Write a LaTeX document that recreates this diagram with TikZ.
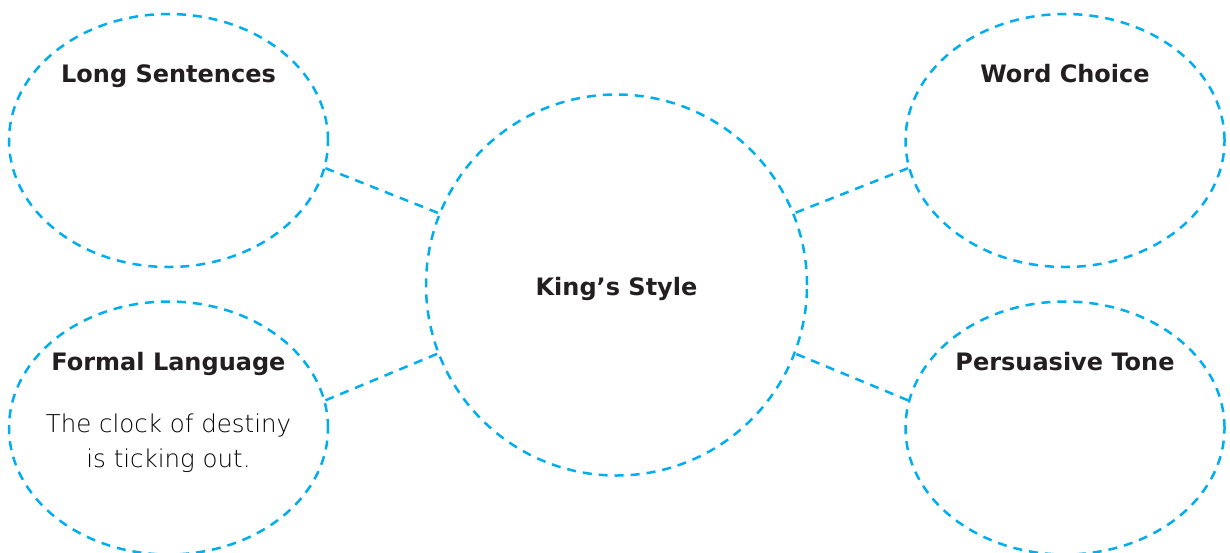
\documentclass[tikz,border=0pt]{standalone}
\usepackage{fontspec}
\setmainfont{DejaVu Sans}
\newfontfamily\bodyfont{DejaVu Sans ExtraLight}
\usetikzlibrary{shapes.geometric}
\definecolor{dashblue}{RGB}{0,174,239}
\definecolor{ink}{RGB}{35,31,32}
\begin{document}
\begin{tikzpicture}[x=1pt,y=-1pt,
  dashline/.style={draw=dashblue, line width=2.5pt, dash pattern=on 9pt off 7pt},
  bubble/.style={dashline, ellipse, minimum width=319pt, minimum height=253pt, inner sep=0pt},
  hub/.style={dashline, circle, minimum size=381pt, inner sep=0pt},
  link/.style={dashline},
  title/.style={font=\fontsize{24}{28}\selectfont\bfseries, text=ink, anchor=base, inner sep=0pt},
  body/.style={font=\bodyfont\fontsize{24.5}{35}\selectfont, align=center, text=black, anchor=base, inner sep=0pt}]
\useasboundingbox (0,0) rectangle (1230,552);
\node[hub] (c) at (616.5,285) {};
\node[bubble] (tl) at (168.5,140.5) {};
\node[bubble] (bl) at (168.5,428) {};
\node[bubble] (tr) at (1065,140.5) {};
\node[bubble] (br) at (1065,428) {};
\draw[link] (tl.-10) -- (c.158);
\draw[link] (bl.10) -- (c.201);
\draw[link] (tr.190) -- (c.22);
\draw[link] (br.170) -- (c.339);
\node[title] (tct) at (616.5,295) {King’s Style};
\node[title] (tlt) at (168.5,82) {Long Sentences};
\node[title] (blt) at (168.5,370) {Formal Language};
\node[title] (trt) at (1065,82) {Word Choice};
\node[title] (brt) at (1065,370) {Persuasive Tone};
\node[body] (blb1) at (168.5,432) {The clock of destiny};
\node[body] (blb2) at (168.5,467) {is ticking out.};
\end{tikzpicture}
\end{document}
